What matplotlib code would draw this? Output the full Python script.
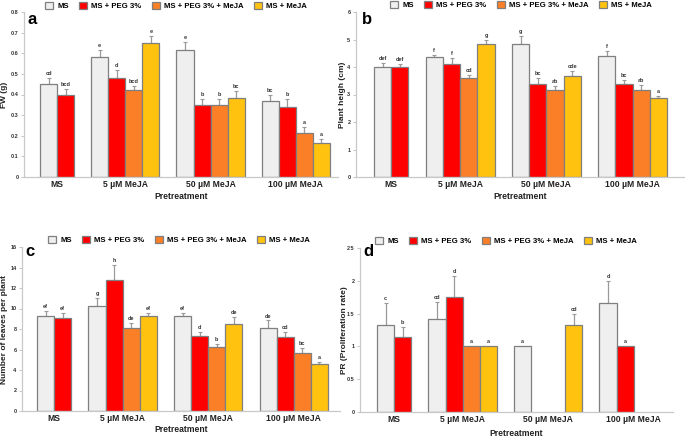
import numpy as np
import matplotlib
matplotlib.use("Agg")
import matplotlib.pyplot as plt
from matplotlib.patches import Patch

plt.rcParams['font.family'] = ['Liberation Sans', 'DejaVu Sans']

# ---------------- data ----------------
groups = ["MS", "5 µM MeJA", "50 µM MeJA", "100 µM MeJA"]
series = ["MS", "MS + PEG 3%", "MS + PEG 3% + MeJA", "MS + MeJA"]
nan = np.nan

# rows = groups, columns = series
fw_mean = [[0.450, 0.400, nan, nan],
           [0.580, 0.481, 0.421, 0.650],
           [0.616, 0.351, 0.348, 0.385],
           [0.367, 0.341, 0.215, 0.163]]
fw_err = [[0.030, 0.026, nan, nan],
          [0.035, 0.039, 0.021, 0.036],
          [0.038, 0.029, 0.029, 0.033],
          [0.031, 0.036, 0.029, 0.019]]
fw_let = [["cd", "bcd", "", ""],
          ["e", "d", "bcd", "e"],
          ["e", "b", "b", "bc"],
          ["bc", "b", "a", "a"]]

ph_mean = [[3.99, 4.01, nan, nan],
           [4.38, 4.10, 3.59, 4.84],
           [4.84, 3.39, 3.18, 3.66],
           [4.40, 3.37, 3.15, 2.88]]
ph_err = [[0.17, 0.10, nan, nan],
          [0.06, 0.22, 0.12, 0.15],
          [0.27, 0.20, 0.13, 0.20],
          [0.19, 0.16, 0.20, 0.06]]
ph_let = [["def", "def", "", ""],
          ["f", "f", "cd", "g"],
          ["g", "bc", "ab", "cde"],
          ["f", "bc", "ab", "a"]]

nl_mean = [[9.22, 9.12, nan, nan],
           [10.29, 12.80, 8.08, 9.22],
           [9.22, 7.33, 6.29, 8.50],
           [8.14, 7.20, 5.70, 4.59]]
nl_err = [[0.55, 0.42, nan, nan],
          [0.71, 1.40, 0.49, 0.38],
          [0.38, 0.42, 0.22, 0.65],
          [0.69, 0.49, 0.42, 0.23]]
nl_let = [["ef", "ef", "", ""],
          ["g", "h", "de", "ef"],
          ["ef", "d", "b", "de"],
          ["de", "cd", "bc", "a"]]

pr_mean = [[1.33, 1.14, nan, nan],
           [1.42, 1.75, 1.00, 1.00],
           [1.00, nan, nan, 1.33],
           [1.66, 1.00, nan, nan]]
pr_err = [[0.33, 0.15, nan, nan],
          [0.25, 0.33, 0.0, 0.0],
          [0.0, nan, nan, 0.17],
          [0.34, 0.0, nan, nan]]
pr_let = [["c", "b", "", ""],
          ["cd", "d", "a", "a"],
          ["a", "", "", "cd"],
          ["d", "a", "", ""]]

# ---------------- style ----------------
colors = ["#EFEFEF", "#FF0000", "#FA7F26", "#FFC20E"]
edge = "#7F7F7F"
group_start = [0, 3, 8, 13]
W, H = 685, 438

fig = plt.figure(figsize=(W / 100, H / 100), dpi=100)


def px_axes(l, r, t, b):
    return fig.add_axes([l / W, 1 - b / H, (r - l) / W, (b - t) / H])


panels = [
    dict(rect=(24, 338, 12, 177), xlim=(-0.94, 17.47), ylim=(0, 0.8), yt=np.arange(0, 0.81, 0.1),
         ytl=["0", "0.1", "0.2", "0.3", "0.4", "0.5", "0.6", "0.7", "0.8"],
         m=fw_mean, e=fw_err, l=fw_let, ylabel="FW (g)", ylx=5, letter="a", letpos=(27, 20),
         leg=(176, 6), xlab_y=197),
    dict(rect=(356, 685, 12, 177), xlim=(-1.04, 18.04), ylim=(0, 6), yt=np.arange(0, 7, 1),
         ytl=[str(i) for i in range(7)],
         m=ph_mean, e=ph_err, l=ph_let, ylabel="Plant heigh (cm)", ylx=343, letter="b", letpos=(362, 20),
         leg=(521, 5), xlab_y=197),
    dict(rect=(22, 340, 247, 411), xlim=(-0.88, 17.7), ylim=(0, 16), yt=np.arange(0, 17, 2),
         ytl=[str(i) for i in range(0, 17, 2)],
         m=nl_mean, e=nl_err, l=nl_let, ylabel="Number of leaves per plant", ylx=5, letter="c", letpos=(25, 252),
         leg=(179, 240), xlab_y=430),
    dict(rect=(360, 673, 248, 412), xlim=(-1.0, 17.3), ylim=(0, 2.5), yt=np.arange(0, 2.51, 0.5),
         ytl=["0", "0.5", "1", "1.5", "2", "2.5"],
         m=pr_mean, e=pr_err, l=pr_let, ylabel="PR (Proliferation rate)", ylx=344, letter="d", letpos=(363, 252),
         leg=(506, 241), xlab_y=433),
]

for p in panels:
    l, r, t, b = p["rect"]
    ax = px_axes(l, r, t, b)
    m = np.array(p["m"], dtype=float)
    e = np.array(p["e"], dtype=float)
    yr = p["ylim"][1]
    for si in range(4):
        xs, ys, es, ls = [], [], [], []
        for gi in range(4):
            if not np.isnan(m[gi, si]):
                xs.append(group_start[gi] + si + 0.5)
                ys.append(m[gi, si])
                es.append(e[gi, si])
                ls.append(p["l"][gi][si])
        xs = np.array(xs); ys = np.array(ys); es = np.array(es)
        ax.bar(xs, ys, width=1.0, color=colors[si], edgecolor=edge, linewidth=0.9, zorder=2)
        has = es > 0
        if has.any():
            ax.errorbar(xs[has], ys[has], yerr=[np.zeros(has.sum()), es[has]], fmt="none",
                        ecolor="#9A9A9A", elinewidth=0.9, capsize=1.3, capthick=0.8, zorder=1)
        for x, y, er, lt in zip(xs, ys, es, ls):
            if lt:
                ax.text(x, y + er + yr * 0.012, lt, ha="center", va="bottom", fontsize=4.0,
                        fontweight="bold", color="#333333")
    ax.set_xlim(*p["xlim"])
    ax.set_ylim(*p["ylim"])
    ax.set_yticks(p["yt"])
    ax.set_yticklabels(p["ytl"], fontsize=4.0, fontweight="bold", color="#333333")
    centers = [group_start[0] + 1, group_start[1] + 2, group_start[2] + 2, group_start[3] + 2]
    ax.set_xticks(centers)
    ax.set_xticklabels(groups, fontsize=6.2, fontweight="bold", color="#222222")
    ax.tick_params(axis="x", length=0, pad=2)
    ax.tick_params(axis="y", length=2.5, width=0.6, color="#BBBBBB", pad=1.5)
    for s in ["top", "right"]:
        ax.spines[s].set_visible(False)
    for s in ["left", "bottom"]:
        ax.spines[s].set_color("#C8C8C8")
        ax.spines[s].set_linewidth(0.9)
    ax.set_facecolor("none")
    # axis titles
    fig.text((l + r) / 2 / W, 1 - p["xlab_y"] / H, "Pretreatment", ha="center", va="center",
             fontsize=6.2, fontweight="bold", color="#222222")
    fig.text(p["ylx"] / W, 1 - (t + b) / 2 / H, p["ylabel"], rotation=90, ha="center", va="center",
             fontsize=6.0, fontweight="bold", color="#222222")
    fig.text(p["letpos"][0] / W, 1 - p["letpos"][1] / H, p["letter"], ha="left", va="center",
             fontsize=12, fontweight="bold", color="black")
    handles = [Patch(facecolor=c, edgecolor=edge, linewidth=0.9) for c in colors]
    fig.legend(handles, series, loc="center", bbox_to_anchor=(p["leg"][0] / W, 1 - p["leg"][1] / H),
               ncol=4, frameon=False, prop=dict(size=5.6, weight="bold"), handlelength=1.1,
               handleheight=1.1, handletextpad=0.5, columnspacing=1.3, borderpad=0)

fig.savefig("out.png", dpi=100)
